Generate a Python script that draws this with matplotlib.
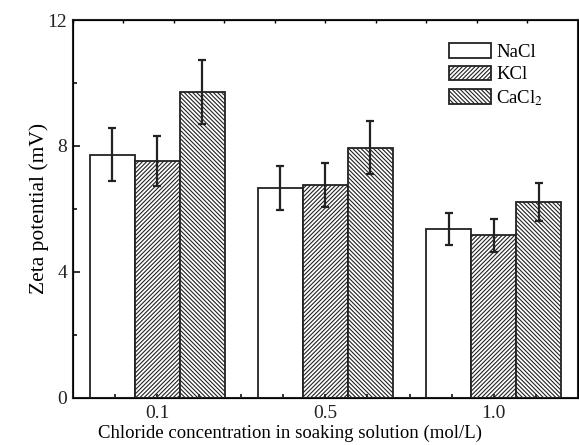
import matplotlib
matplotlib.use('Agg')
import matplotlib.pyplot as plt
import numpy as np
from matplotlib.ticker import MultipleLocator

plt.rcParams['font.family'] = ['Liberation Serif', 'DejaVu Serif']
plt.rcParams['mathtext.fontset'] = 'stix'
plt.rcParams['hatch.linewidth'] = 0.8

categories = ['0.1', '0.5', '1.0']
series = ['NaCl', 'KCl', 'CaCl$_2$']
nacl = [7.72, 6.66, 5.37]
kcl = [7.53, 6.75, 5.16]
cacl2 = [9.72, 7.95, 6.23]
nacl_err = [0.84, 0.70, 0.50]
kcl_err = [0.80, 0.70, 0.52]
cacl2_err = [1.02, 0.84, 0.60]

values = [nacl, kcl, cacl2]
errors = [nacl_err, kcl_err, cacl2_err]
hatches = ['', '////////', '\\\\\\\\\\\\\\\\']

fig = plt.figure(figsize=(5.79, 4.45), dpi=100)
ax = fig.add_axes([0.126, 0.106, 0.872, 0.849])

x = np.arange(len(categories))
w = 0.267
for i in range(3):
    ax.bar(x + (i - 1) * w, values[i], w, color='white', edgecolor='#222222',
           hatch=hatches[i], linewidth=1.3, label=series[i], zorder=2)
    ax.errorbar(x + (i - 1) * w, values[i], yerr=errors[i], fmt='none',
                ecolor='#222222', elinewidth=1.6, capsize=3, capthick=1.6, zorder=3)

ax.set_axisbelow(False)
ax.set_xlim(-0.5, 2.5)
ax.set_ylim(0, 12)
ax.set_xticks(x)
ax.set_xticklabels(categories)
ax.xaxis.set_minor_locator(MultipleLocator(0.25))
ax.yaxis.set_major_locator(MultipleLocator(4))
ax.yaxis.set_minor_locator(MultipleLocator(2))
ax.tick_params(which='both', direction='in', width=1.3, labelsize=14, colors='#222222', pad=4)
ax.tick_params(which='major', length=5)
ax.tick_params(which='minor', length=3)
ax.tick_params(axis='x', which='major', length=3, pad=5)
for s in ax.spines.values():
    s.set_linewidth(1.5)
    s.set_color('#222222')

top = ax.twiny()
top.set_xlim(-0.5, 2.5)
top.set_xticks(np.arange(-0.5, 2.5, 0.3))
top.tick_params(direction='in', length=2, width=1, labeltop=False)

ax.set_xlabel('Chloride concentration in soaking solution (mol/L)', fontsize=13.5)
ax.xaxis.set_label_coords(0.43, -0.071)
ax.set_ylabel('Zeta potential (mV)', fontsize=15.5, labelpad=-1)

ax.legend(loc='upper left', bbox_to_anchor=(0.727, 0.963), frameon=False, fontsize=13.5,
          borderpad=0, handlelength=2.24, handleheight=0.8, handletextpad=0.25,
          labelspacing=0.25)

fig.savefig('out.png', dpi=100)
